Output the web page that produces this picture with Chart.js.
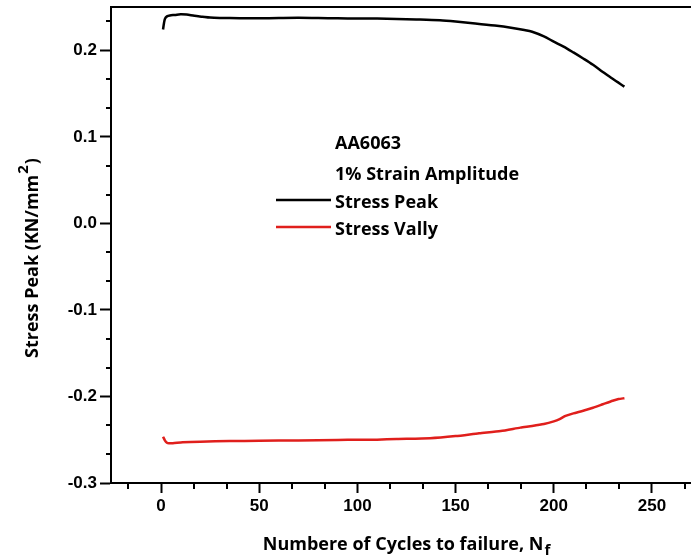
<!DOCTYPE html>
<html lang="en">
<head>
<meta charset="UTF-8" />
<title>AA6063 Stress Peak / Vally</title>
<script src="https://cdn.jsdelivr.net/npm/chart.js"></script>
<style>
  html, body { margin: 0; padding: 0; background: #fff; overflow: hidden; }
  #wrap { width: 702px; height: 560px; }
</style>
</head>
<body>
<div id="wrap"><canvas id="stressChart" width="702" height="560"></canvas></div>
<script>
// values, stress in KN/mm^2
const peakCycles = [1, 1.5, 2, 3, 4.5, 7, 10, 13, 17, 21, 25, 30, 40, 50, 60, 70, 80, 90, 100, 110, 120, 130, 142, 150, 160, 170, 179, 185, 189, 195, 200, 205, 210, 215, 220, 225, 230, 236];
const peakStress = [0.224, 0.2315, 0.2365, 0.2392, 0.2403, 0.2408, 0.2416, 0.2412, 0.2398, 0.2388, 0.2378, 0.2374, 0.2371, 0.2370, 0.2373, 0.2375, 0.2372, 0.2369, 0.2368, 0.2366, 0.2362, 0.2356, 0.2346, 0.2332, 0.2310, 0.2285, 0.2257, 0.2234, 0.2214, 0.2160, 0.2100, 0.2042, 0.1975, 0.1905, 0.1832, 0.1750, 0.1670, 0.1580];

const valleyCycles = [1, 2, 3, 4, 6, 11, 20, 35, 50, 70, 90, 100, 110, 120, 137, 150, 162, 173, 183, 189, 195, 200, 203, 206, 210, 215, 220, 225, 230, 233, 236];
const valleyStress = [-0.2465, -0.2510, -0.2535, -0.2541, -0.2540, -0.2530, -0.2522, -0.2515, -0.2512, -0.2508, -0.2503, -0.2500, -0.2499, -0.2492, -0.2483, -0.2458, -0.2425, -0.2399, -0.2360, -0.2341, -0.2318, -0.2288, -0.2262, -0.2225, -0.2195, -0.2165, -0.2130, -0.2090, -0.2050, -0.2030, -0.2020];

const xTicks = [0, 50, 100, 150, 200, 250];
const yTicks = [-0.3, -0.2, -0.1, 0.0, 0.1, 0.2];

const seriesNames = ["Stress Peak", "Stress Vally"];
const seriesColors = ["#000000", "#e01f1c"];
const legendTitle = ["AA6063", "1% Strain Amplitude"];

const tickFont = { family: "Liberation Sans", size: 17, weight: "bold" };
const titleFont = 'bold 18px "Open Sans"';

// minor ticks sit at thirds between the labelled ones
function minorTicks(major, min, max) {
  const step = major[1] - major[0];
  const out = [];
  for (let v = major[0] - step; v <= max + 1e-9; v += step) {
    [v + step / 3, v + 2 * step / 3].forEach(m => {
      if (m >= min - 1e-9 && m <= max + 1e-9) out.push(m);
    });
  }
  return out;
}

const extras = {
  id: "extras",
  afterDraw(chart) {
    const ctx = chart.ctx;
    const a = chart.chartArea;
    const xs = chart.scales.x, ys = chart.scales.y;
    ctx.save();
    ctx.strokeStyle = "#000";
    ctx.lineWidth = 2;

    // top frame line
    ctx.beginPath();
    ctx.moveTo(a.left - 1, a.top);
    ctx.lineTo(a.right + 5, a.top);
    ctx.stroke();

    // minor ticks
    ctx.beginPath();
    minorTicks(xTicks, xs.min, xs.max).forEach(v => {
      const px = Math.round(xs.getPixelForValue(v));
      ctx.moveTo(px, a.bottom);
      ctx.lineTo(px, a.bottom + 6);
    });
    minorTicks(yTicks, ys.min, ys.max).forEach(v => {
      const py = Math.round(ys.getPixelForValue(v));
      ctx.moveTo(a.left, py);
      ctx.lineTo(a.left - 5, py);
    });
    ctx.stroke();

    // legend block
    ctx.fillStyle = "#000";
    ctx.font = titleFont;
    ctx.textBaseline = "alphabetic";
    ctx.fillText(legendTitle[0], 335, 149);
    ctx.fillText(legendTitle[1], 335, 180);
    const rows = [208, 235];
    seriesNames.forEach((name, i) => {
      ctx.strokeStyle = seriesColors[i];
      ctx.lineWidth = 2.5;
      ctx.beginPath();
      ctx.moveTo(276, rows[i] - 8);
      ctx.lineTo(331, rows[i] - 8);
      ctx.stroke();
      ctx.fillStyle = "#000";
      ctx.fillText(name, 335, rows[i]);
    });

    // x axis title with subscript
    const xMain = "Numbere of Cycles to failure, N";
    ctx.font = titleFont;
    const w1 = ctx.measureText(xMain).width;
    ctx.font = 'bold 15px "Open Sans"';
    const w2 = ctx.measureText("f").width;
    let sx = (a.left + a.right) / 2 - (w1 + w2) / 2;
    ctx.font = titleFont;
    ctx.fillText(xMain, sx, 550);
    ctx.font = 'bold 15px "Open Sans"';
    ctx.fillText("f", sx + w1 + 1, 555);

    // y axis title with superscript
    ctx.translate(38, 258);
    ctx.rotate(-Math.PI / 2);
    const yMain = "Stress Peak (KN/mm";
    ctx.font = titleFont;
    const m1 = ctx.measureText(yMain).width;
    const m3 = ctx.measureText(")").width;
    ctx.font = 'bold 15px "Open Sans"';
    const m2 = ctx.measureText("2").width;
    let sy = -(m1 + m2 + m3 + 2) / 2;
    ctx.font = titleFont;
    ctx.fillText(yMain, sy, 0);
    ctx.font = 'bold 15px "Open Sans"';
    ctx.fillText("2", sy + m1 + 1, -10);
    ctx.font = titleFont;
    ctx.fillText(")", sy + m1 + m2 + 2, 0);
    ctx.restore();
  }
};

new Chart(document.getElementById("stressChart").getContext("2d"), {
  type: "line",
  data: {
    datasets: [
      {
        label: seriesNames[0],
        data: peakCycles.map((c, i) => ({ x: c, y: peakStress[i] })),
        borderColor: seriesColors[0],
        borderWidth: 2.5,
        pointRadius: 0,
        tension: 0.3,
        fill: false
      },
      {
        label: seriesNames[1],
        data: valleyCycles.map((c, i) => ({ x: c, y: valleyStress[i] })),
        borderColor: seriesColors[1],
        borderWidth: 2.5,
        pointRadius: 0,
        tension: 0.2,
        fill: false
      }
    ]
  },
  options: {
    responsive: false,
    animation: false,
    layout: { padding: { top: 7, right: 1, left: 0, bottom: 0 } },
    plugins: { legend: { display: false }, tooltip: { enabled: false } },
    scales: {
      x: {
        type: "linear",
        min: -25.5,
        max: 275,
        afterBuildTicks: s => { s.ticks = xTicks.map(v => ({ value: v })); },
        afterFit: s => { s.height = 77; s.paddingLeft = 0; s.paddingRight = 0; },
        grid: { drawOnChartArea: false, color: "#000", tickLength: 10, tickWidth: 2 },
        border: { color: "#000", width: 2 },
        ticks: { color: "#000", font: tickFont, padding: 3, maxRotation: 0, autoSkip: false,
          callback: v => String(v) }
      },
      y: {
        type: "linear",
        min: -0.3,
        max: 0.25,
        afterBuildTicks: s => { s.ticks = yTicks.map(v => ({ value: v })); },
        afterFit: s => { s.width = 111; s.paddingTop = 0; s.paddingBottom = 0; },
        grid: { drawOnChartArea: false, color: "#000", tickLength: 11, tickWidth: 2 },
        border: { color: "#000", width: 2 },
        ticks: { color: "#000", font: tickFont, padding: 3, autoSkip: false,
          callback: v => Math.abs(v) < 1e-9 ? "0.0" : v.toFixed(1) }
      }
    }
  },
  plugins: [extras]
});
</script>
</body>
</html>
